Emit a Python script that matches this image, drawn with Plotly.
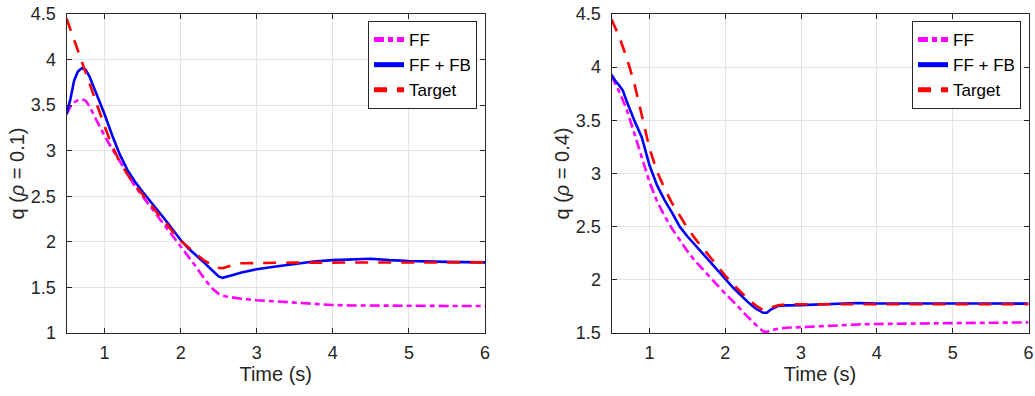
import plotly.graph_objects as go

# ---------------- data ----------------
t_left = [0.5, 0.55, 0.6, 0.65, 0.7, 0.75, 0.8, 0.9, 1.0, 1.1, 1.2, 1.3, 1.4, 1.5,
          1.6, 1.7, 1.8, 1.9, 2.0, 2.1, 2.2, 2.3, 2.4, 2.5, 2.55, 2.6, 2.7, 2.8,
          3.0, 3.25, 3.5, 3.75, 4.0, 4.25, 4.5, 4.75, 5.0, 5.5, 6.0]
ff_left = [3.40, 3.48, 3.53, 3.555, 3.565, 3.55, 3.49, 3.33, 3.16, 3.02, 2.88, 2.74, 2.61, 2.50,
           2.39, 2.28, 2.17, 2.07, 1.955, 1.84, 1.73, 1.61, 1.50, 1.43, 1.41, 1.40, 1.385, 1.375,
           1.36, 1.345, 1.33, 1.315, 1.307, 1.302, 1.30, 1.298, 1.297, 1.297, 1.297]
fffb_left = [3.40, 3.56, 3.77, 3.87, 3.905, 3.89, 3.82, 3.62, 3.40, 3.17, 2.96, 2.79, 2.66, 2.55,
             2.45, 2.35, 2.24, 2.13, 2.02, 1.93, 1.86, 1.78, 1.70, 1.62, 1.605, 1.615, 1.64, 1.665,
             1.70, 1.73, 1.76, 1.785, 1.80, 1.81, 1.815, 1.80, 1.79, 1.78, 1.775]
target_left = [4.45, 4.34, 4.22, 4.10, 3.98, 3.86, 3.74, 3.50, 3.27, 3.05, 2.88, 2.74, 2.62, 2.52,
               2.41, 2.31, 2.21, 2.11, 2.01, 1.94, 1.87, 1.80, 1.755, 1.715, 1.71, 1.725, 1.75, 1.765,
               1.77, 1.77, 1.772, 1.772, 1.773, 1.773, 1.774, 1.774, 1.774, 1.775, 1.775]

t_right = [0.5, 0.55, 0.6, 0.65, 0.7, 0.8, 0.9, 1.0, 1.1, 1.2, 1.3, 1.4, 1.5, 1.6, 1.7,
           1.8, 1.9, 2.0, 2.1, 2.2, 2.3, 2.4, 2.5, 2.55, 2.6, 2.7, 2.8, 3.0, 3.25, 3.5,
           3.75, 4.0, 4.5, 5.0, 5.5, 6.0]
ff_right = [3.92, 3.85, 3.77, 3.69, 3.60, 3.38, 3.15, 2.92, 2.74, 2.60, 2.48, 2.37, 2.27, 2.18, 2.10,
            2.02, 1.94, 1.87, 1.80, 1.72, 1.65, 1.58, 1.515, 1.51, 1.525, 1.54, 1.55, 1.555, 1.565, 1.575,
            1.58, 1.585, 1.59, 1.595, 1.598, 1.60]
fffb_right = [3.93, 3.87, 3.83, 3.78, 3.68, 3.50, 3.34, 3.08, 2.89, 2.75, 2.63, 2.50, 2.41, 2.33, 2.25,
              2.17, 2.08, 2.00, 1.93, 1.86, 1.79, 1.73, 1.69, 1.69, 1.72, 1.755, 1.76, 1.762, 1.77, 1.78,
              1.782, 1.778, 1.78, 1.778, 1.777, 1.776]
target_right = [4.45, 4.37, 4.29, 4.19, 4.09, 3.85, 3.55, 3.24, 3.02, 2.86, 2.72, 2.60, 2.49, 2.39, 2.30,
                2.21, 2.12, 2.04, 1.96, 1.89, 1.82, 1.76, 1.715, 1.72, 1.74, 1.76, 1.77, 1.77, 1.77, 1.77,
                1.77, 1.77, 1.77, 1.77, 1.77, 1.77]

series_names = ["FF", "FF + FB", "Target"]
x_ticks = [1, 2, 3, 4, 5, 6]
y_title_left = "q (<i>ρ</i> = 0.1)"
y_title_right = "q (<i>ρ</i> = 0.4)"
x_title = "Time (s)"

# ---------------- styles ----------------
FONT = "Liberation Sans, Arial, Helvetica, sans-serif"
TXT = "#262626"
GRID = "#e3e3e3"
styles = [
    dict(color="#ff00ff", width=2.6, dash="10px,4px,5px,4px"),
    dict(color="#0000ff", width=2.6, dash="solid"),
    dict(color="#ff0000", width=2.6, dash="13px,10px"),
]

fig = go.Figure()

panels = [
    (t_left, [ff_left, fffb_left, target_left], "x", "y", "legend"),
    (t_right, [ff_right, fffb_right, target_right], "x2", "y2", "legend2"),
]
for t, ys, xa, ya, lg in panels:
    for name, y, st in zip(series_names, ys, styles):
        fig.add_trace(go.Scatter(x=t, y=y, mode="lines", name=name, line=st,
                                 xaxis=xa, yaxis=ya, legend=lg))

W, H = 1035, 396
def xd(a, b):
    return [a / W, b / W]
ydom = [(H - 333) / H, (H - 14) / H]

axis_common = dict(
    showline=True, linecolor=TXT, linewidth=1, mirror="ticks",
    ticks="inside", ticklen=5, tickwidth=1, tickcolor=TXT,
    showgrid=True, gridcolor=GRID, gridwidth=1, zeroline=False,
    automargin=False,
    tickfont=dict(family=FONT, size=18, color=TXT),
)
title_font = dict(family=FONT, size=20, color=TXT)

fig.update_layout(
    template="none",
    width=W, height=H,
    margin=dict(l=0, r=0, t=0, b=0, pad=0),
    paper_bgcolor="white", plot_bgcolor="white",
    font=dict(family=FONT, color=TXT),
    xaxis=dict(domain=xd(66.5, 485), range=[0.5, 6], tickvals=x_ticks,
               title=dict(text=x_title, font=title_font, standoff=4),
               anchor="y", ticklabelstandoff=3, **axis_common),
    yaxis=dict(domain=ydom, range=[1, 4.5], dtick=0.5, tick0=1,
               title=dict(text=y_title_left, font=title_font, standoff=0),
               anchor="x", ticklabelstandoff=6, **axis_common),
    xaxis2=dict(domain=xd(611.5, 1028.5), range=[0.5, 6], tickvals=x_ticks,
                title=dict(text=x_title, font=title_font, standoff=4),
                anchor="y2", ticklabelstandoff=3, **axis_common),
    yaxis2=dict(domain=ydom, range=[1.5, 4.5], dtick=0.5, tick0=1.5,
                title=dict(text=y_title_right, font=title_font, standoff=0),
                anchor="x2", ticklabelstandoff=6, **axis_common),
    legend=dict(x=477 / W, y=1 - 21 / H, xanchor="right", yanchor="top",
                bgcolor="white", bordercolor=TXT, borderwidth=1,
                font=dict(family=FONT, size=17, color="#000000"),
                tracegroupgap=0, itemsizing="constant"),
    legend2=dict(x=1021 / W, y=1 - 21 / H, xanchor="right", yanchor="top",
                 bgcolor="white", bordercolor=TXT, borderwidth=1,
                 font=dict(family=FONT, size=17, color="#000000"),
                 tracegroupgap=0, itemsizing="constant"),
)

fig.write_html("out.html")
